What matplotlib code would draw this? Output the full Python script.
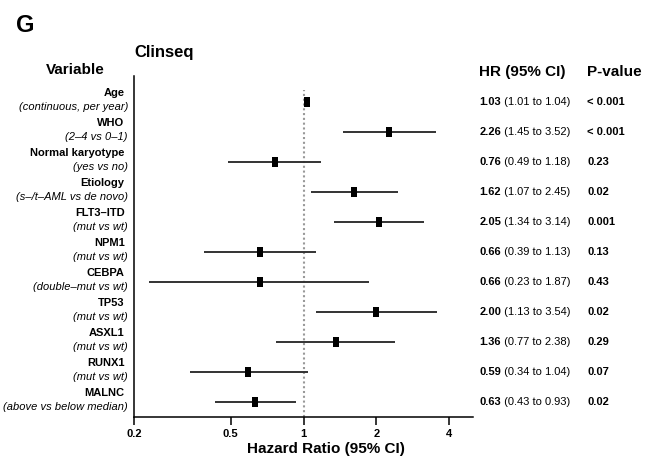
import matplotlib
matplotlib.use("Agg")
import matplotlib.pyplot as plt

plt.rcParams["font.family"] = ["Liberation Sans", "DejaVu Sans"]

# data
names = ["Age", "WHO", "Normal karyotype", "Etiology", "FLT3–ITD", "NPM1",
         "CEBPA", "TP53", "ASXL1", "RUNX1", "MALNC"]
descs = ["(continuous, per year)", "(2–4 vs 0–1)", "(yes vs no)",
         "(s–/t–AML vs de novo)", "(mut vs wt)", "(mut vs wt)",
         "(double–mut vs wt)", "(mut vs wt)", "(mut vs wt)", "(mut vs wt)",
         "(above vs below median)"]
hr = [1.03, 2.26, 0.76, 1.62, 2.05, 0.66, 0.66, 2.00, 1.36, 0.59, 0.63]
lo = [1.01, 1.45, 0.49, 1.07, 1.34, 0.39, 0.23, 1.13, 0.77, 0.34, 0.43]
hi = [1.04, 3.52, 1.18, 2.45, 3.14, 1.13, 1.87, 3.54, 2.38, 1.04, 0.93]
pvals = ["< 0.001", "< 0.001", "0.23", "0.02", "0.001", "0.13", "0.43",
         "0.02", "0.29", "0.07", "0.02"]
xticks = [0.2, 0.5, 1, 2, 4]
xticklabels = ["0.2", "0.5", "1", "2", "4"]

n = len(names)
ypos = [n - i for i in range(n)]  # Age on top

fig = plt.figure(figsize=(6.51, 4.57), dpi=100)
ax = fig.add_axes([134 / 651, 40 / 457, 339 / 651, 341 / 457])

# reference line at HR = 1
ax.vlines(1, 0.49, 11.4, colors="#999999", linestyles=(0, (1, 1.3)), lw=1.5, zorder=1)

# CI lines and point estimates
box = [(-0.3, -0.5), (0.3, -0.5), (0.3, 0.5), (-0.3, 0.5), (-0.3, -0.5)]
ax.hlines(ypos, lo, hi, colors="#333333", lw=1.4, zorder=2)
ax.plot(hr, ypos, ls="none", marker=box, ms=7.4, color="black", mew=0, zorder=3)

ax.set_xscale("log")
ax.set_xlim(0.2, 5)
ax.set_ylim(0.49, 11.86)
ax.set_xticks(xticks)
ax.set_xticklabels(xticklabels, fontweight="bold", fontsize=8)
ax.minorticks_off()
ax.set_yticks([])
ax.tick_params(axis="x", length=6, width=1.1, pad=2.5)
for s in ["top", "right"]:
    ax.spines[s].set_visible(False)
for s in ["left", "bottom"]:
    ax.spines[s].set_linewidth(1.1)

trans = ax.get_yaxis_transform()
for i, y in enumerate(ypos):
    ax.text(-0.028, y + 0.29, names[i], transform=trans, ha="right", va="center",
            fontsize=8, fontweight="bold")
    ax.text(-0.018, y - 0.18, descs[i], transform=trans, ha="right", va="center",
            fontsize=8, style="italic")
    t = ax.text(1.019, y, f"{hr[i]:.2f}", transform=trans, ha="left", va="center",
                fontsize=8, fontweight="bold")
    ax.annotate(f" ({lo[i]:.2f} to {hi[i]:.2f})", xycoords=t, xy=(1, 0.5),
                ha="left", va="center", fontsize=8)
    ax.text(1.337, y, pvals[i], transform=trans, ha="left", va="center",
            fontsize=8, fontweight="bold")

# headers
ax.text(-0.174, 1.018, "Variable", transform=ax.transAxes, ha="center", va="center",
        fontsize=11, fontweight="bold")
ax.text(1.019, 1.013, "HR (95% CI)", transform=ax.transAxes, ha="left", va="center",
        fontsize=11, fontweight="bold")
ax.text(1.337, 1.013, "P-value", transform=ax.transAxes, ha="left", va="center",
        fontsize=11, fontweight="bold")
ax.text(0.0, 1.07, "Clinseq", transform=ax.transAxes, ha="left", va="center",
        fontsize=12, fontweight="bold")
fig.text(326 / 651, 1 - 449.5 / 457, "Hazard Ratio (95% CI)", ha="center", va="center",
         fontsize=11, fontweight="bold")
fig.text(16 / 651, 1 - 26 / 457, "G", ha="left", va="center", fontsize=17,
         fontweight="bold")

fig.savefig("out.png", dpi=100)
